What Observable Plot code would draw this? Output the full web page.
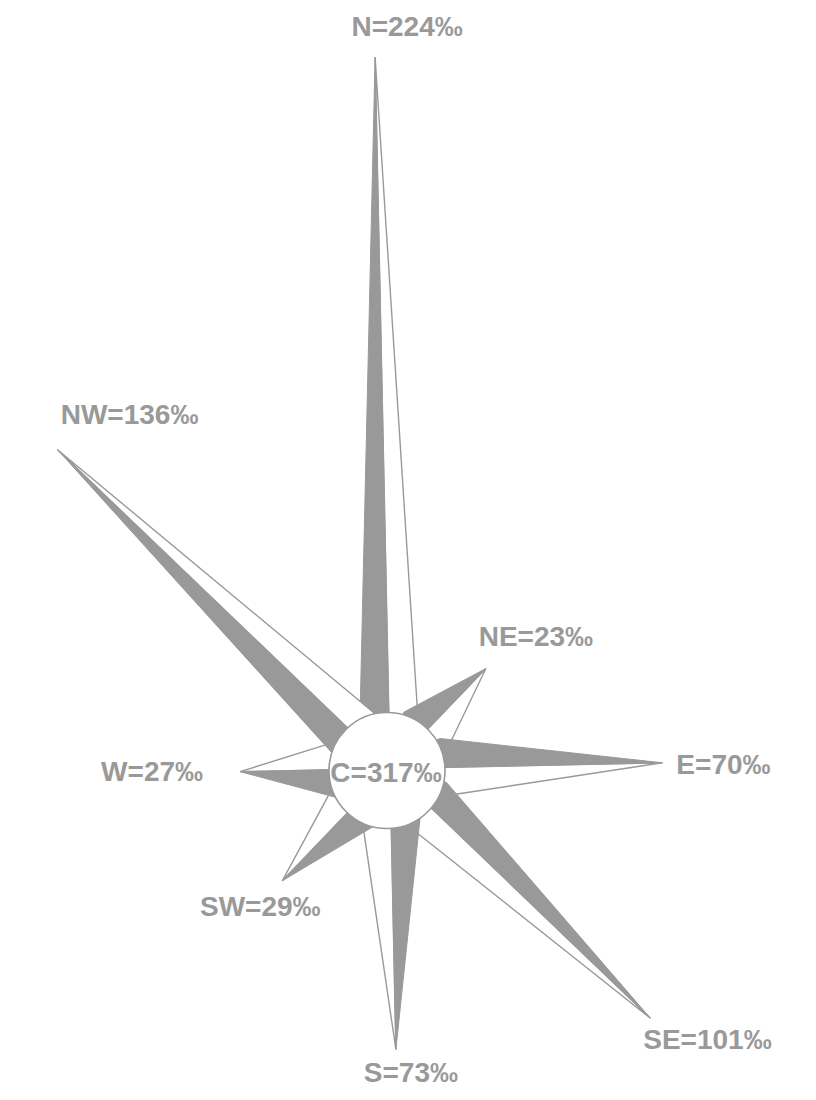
<!DOCTYPE html>
<html><head><meta charset="utf-8">
<script src="https://cdn.jsdelivr.net/npm/d3@7"></script>
<script src="https://cdn.jsdelivr.net/npm/@observablehq/plot@0.6"></script>
<style>body{margin:0;background:#fff}</style>
</head><body><div id="chart"></div>
<script>
// ---- data ----
const directions = ["N", "NE", "E", "SE", "S", "SW", "W", "NW"];
const bearings = [0, 45, 90, 135, 180, 225, 270, 315];
const values = [224, 23, 70, 101, 73, 29, 27, 136]; // per mille
const centerName = "C";
const centerValue = 317;

// ---- layout / style ----
const W = 816, H = 1100, CX = 389.5, CY = 768, K = 2.85; // px per ‰
const GRAY = "#999999";
const BASE = 73 / K;           // radial offset of the length scale (value units)
const R = 58 / K;              // centre circle radius
const WB = 29 / K;             // spike half-width at circle
const A0 = Math.sqrt(R * R - WB * WB);
const ROT = 1.2;               // slight counter-clockwise tilt of the rose
const FONT = "Liberation Sans, Arial, Helvetica, sans-serif";
const labelOffsets = {N:[32,-30], NE:[50,-31], E:[61,2], SE:[57,22], S:[15,24], SW:[-22,26], W:[-88,0], NW:[72,-35]};

const spikes = directions.map((d, i) => {
  const a = (90 - bearings[i] + ROT) * Math.PI / 180;
  const ux = Math.cos(a), uy = Math.sin(a), px = -uy, py = ux;
  const L = BASE + values[i];
  return {
    d, v: values[i],
    tip: [ux * L, uy * L],
    ccw: [ux * A0 + px * WB, uy * A0 + py * WB],
    cw: [ux * A0 - px * WB, uy * A0 - py * WB]
  };
});

const marks = [];
for (const s of spikes) {
  const white = [[0, 0], s.tip, s.cw, [0, 0]];
  const filled = [[0, 0], s.ccw, s.tip, [0, 0]];
  marks.push(Plot.line(white, {x: p => p[0], y: p => p[1], fill: "white", stroke: GRAY, strokeWidth: 1.4, strokeLinejoin: "miter"}));
  marks.push(Plot.line(filled, {x: p => p[0], y: p => p[1], fill: GRAY, stroke: GRAY, strokeWidth: 1, strokeLinejoin: "miter"}));
}
marks.push(Plot.dot([{x: 0, y: 0}], {x: "x", y: "y", r: 58, fill: "white", stroke: GRAY, strokeWidth: 1.6, dx: -3, dy: 2}));
marks.push(Plot.text([{x: 0, y: 0}], {x: "x", y: "y", text: () => `${centerName}=${centerValue}‰`, fontSize: 28, fontWeight: "bold", fill: GRAY, fontFamily: FONT, dx: -4, dy: 5}));
marks.push(Plot.text(spikes, {
  x: s => s.tip[0] + labelOffsets[s.d][0] / K,
  y: s => s.tip[1] - labelOffsets[s.d][1] / K,
  text: s => `${s.d}=${s.v}‰`,
  fontSize: 28, fontWeight: "bold", fill: GRAY, fontFamily: FONT, textAnchor: "middle"
}));

const chart = Plot.plot({
  width: W, height: H,
  margin: 0,
  x: {domain: [-CX / K, (W - CX) / K], range: [0, W], axis: null},
  y: {domain: [-(H - CY) / K, CY / K], range: [H, 0], axis: null},
  style: {background: "white", fontFamily: FONT},
  marks
});
document.getElementById("chart").appendChild(chart);
</script>
</body></html>
